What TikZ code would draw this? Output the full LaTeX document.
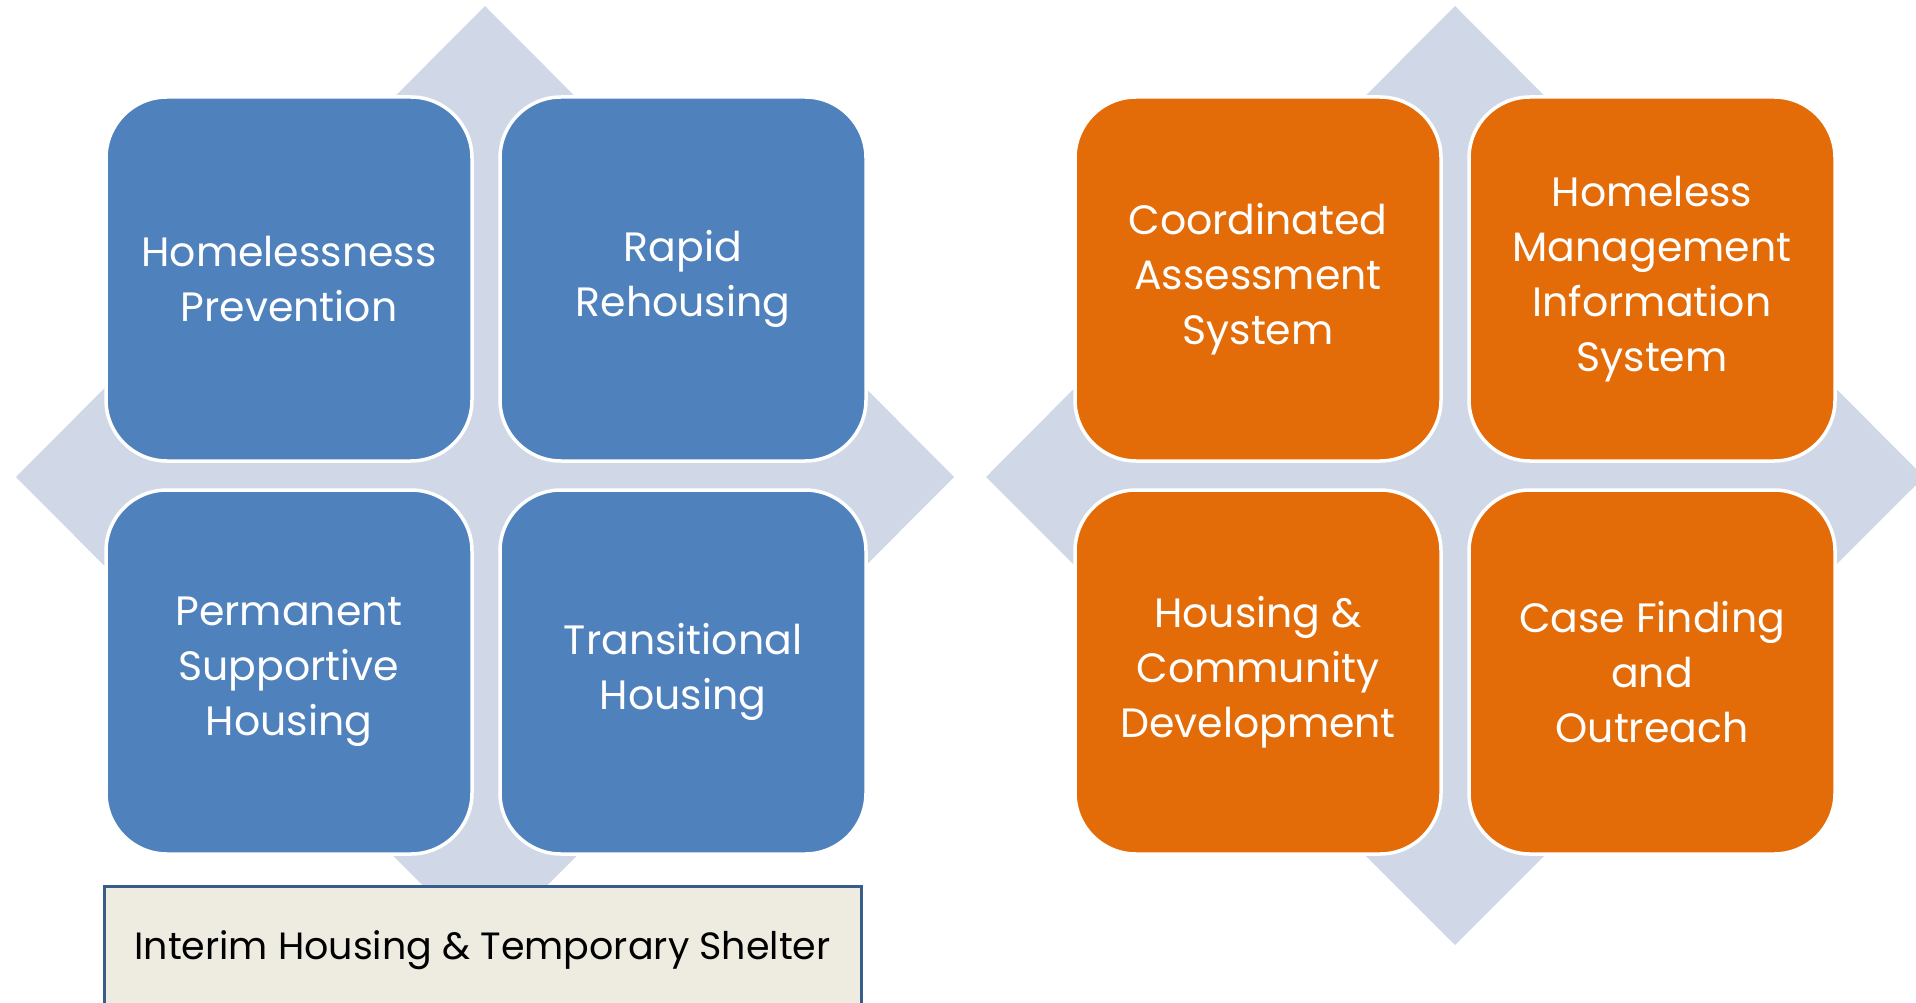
\documentclass[tikz,border=0pt]{standalone}
\usepackage{fontspec}
\setmainfont{Poppins}
\definecolor{dia}{HTML}{D0D8E8}
\definecolor{bluebox}{HTML}{4F81BD}
\definecolor{orangebox}{HTML}{E36C09}
\definecolor{tanfill}{HTML}{EEECE1}
\definecolor{navyline}{HTML}{385D8A}
\tikzset{
  tile/.style={rounded corners=61pt, draw=white, line width=3.5pt, minimum width=366pt, minimum height=364pt, inner sep=0pt, text=white, align=center, font=\fontsize{41}{55}\selectfont},
  bluetile/.style={tile, fill=bluebox},
  orangetile/.style={tile, fill=orangebox},
  diamondshape/.style={fill=dia, draw=none},
  interimbox/.style={fill=tanfill, draw=navyline, line width=3pt},
  interimtext/.style={text=black, font=\fontsize{38}{44}\selectfont}
}
\begin{document}
\begin{tikzpicture}[x=1pt,y=-1pt]
\useasboundingbox (0,0) rectangle (1916,1003);
\clip (0,0) rectangle (1916,1003);
% left diamond
\fill[diamondshape] (485,6) -- (954,477) -- (485,948) -- (16,477) -- cycle;
\node[bluetile] (hp) at (289,279) {Homelessness\\Prevention};
\node[bluetile] (rr) at (683,279) {Rapid\\Rehousing};
\node[bluetile] (psh) at (289,672) {Permanent\\Supportive\\Housing};
\node[bluetile] (th) at (683,672) {Transitional\\Housing};
\draw[interimbox] (104,886) rectangle (861,1010);
\node[interimtext] (ih) at (482.5,950) {Interim Housing \& Temporary Shelter};
% right diamond
\fill[diamondshape] (1455,6) -- (1924,477) -- (1455,945) -- (986,477) -- cycle;
\node[orangetile] (cas) at (1258,279) {Coordinated\\Assessment\\System};
\node[orangetile] (hmis) at (1652,279) {Homeless\\Management\\Information\\System};
\node[orangetile] (hcd) at (1258,672) {Housing \&\\Community\\Development};
\node[orangetile] (cfo) at (1652,672) {Case Finding\\and\\Outreach};
\end{tikzpicture}
\end{document}
